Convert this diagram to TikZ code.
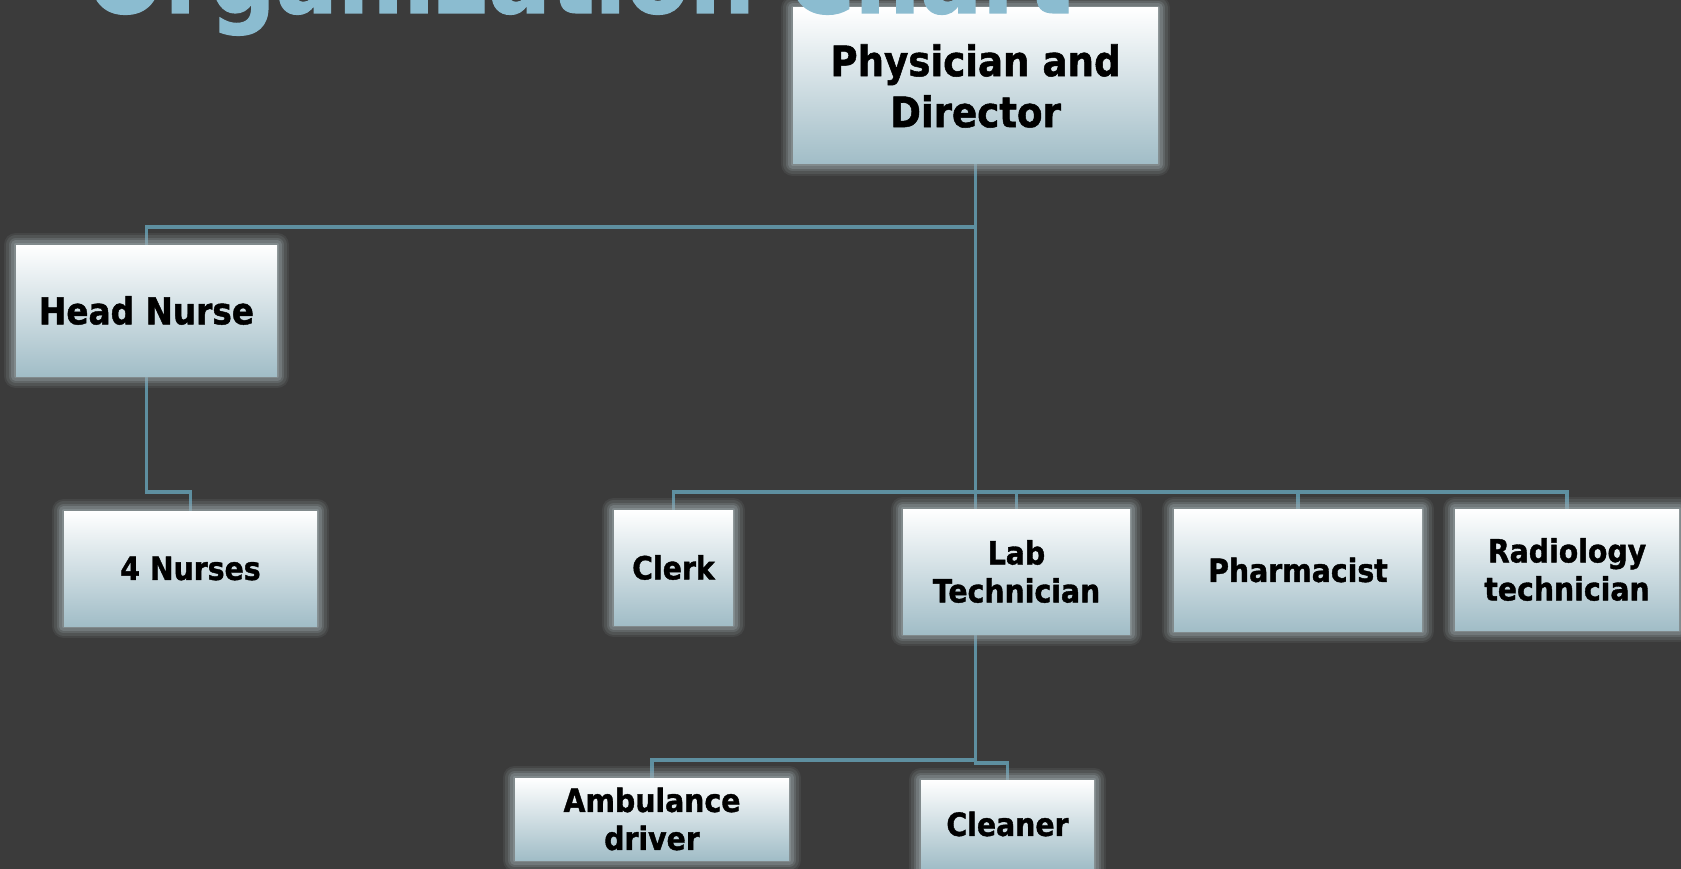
\documentclass[tikz,border=0pt]{standalone}
\usepackage{fontspec}
\setmainfont{DejaVu Sans}[FakeStretch=0.885,FakeBold=1.2]
\usetikzlibrary{calc}
\definecolor{bgc}{HTML}{3B3B3B}
\definecolor{linec}{HTML}{5E8FA0}
\definecolor{topc}{HTML}{FFFFFF}
\definecolor{botc}{HTML}{A1BDC7}
\definecolor{glowc}{HTML}{A0ACB0}
\definecolor{titlec}{HTML}{8BBCD0}
\pgfdeclarelayer{bg}
\pgfdeclarelayer{glowl}
\pgfsetlayers{bg,glowl,main}
\tikzset{
  box/.style={rectangle, inner sep=0pt, top color=topc, bottom color=botc,
    align=center, text=black, font=\bfseries\fontsize{32}{38}\selectfont},
  conn/.style={draw=linec, line width=3.3pt},
  glowline/.style={draw=glowc, line join=round}
}
\begin{document}
\begin{tikzpicture}[x=1pt,y=-1pt]
\useasboundingbox (0,0) rectangle (1681,869);
\clip (0,0) rectangle (1681,869);
% boxes
\node[box, minimum width=365pt, minimum height=156pt,
  font=\bfseries\fontsize{42}{51}\selectfont] (phys) at (975.5,86) {Physician and\\Director};
\node[box, minimum width=261pt, minimum height=131pt,
  font=\bfseries\fontsize{37}{44}\selectfont] (head) at (146.5,310.5) {Head Nurse};
\node[box, minimum width=253pt, minimum height=115pt] (nurses) at (190.5,568.5) {4 Nurses};
\node[box, minimum width=119pt, minimum height=115pt] (clerk) at (673.5,567.5) {Clerk};
\node[box, minimum width=227pt, minimum height=125pt] (lab) at (1016.5,571.5) {Lab\\Technician};
\node[box, minimum width=248pt, minimum height=122pt] (pharm) at (1298,570) {Pharmacist};
\node[box, minimum width=224pt, minimum height=121pt] (radio) at (1567,569.5) {Radiology\\technician};
\node[box, minimum width=274pt, minimum height=82pt] (amb) at (652,819) {Ambulance\\driver};
\node[box, minimum width=173pt, minimum height=88pt] (clean) at (1007.5,824) {Cleaner};
% glow
\begin{pgfonlayer}{glowl}
\foreach \n in {phys,head,nurses,clerk,lab,pharm,radio,amb,clean}{
  \foreach \w/\o in {24/0.10,19/0.14,14/0.2,9/0.28,4/0.35}{
    \draw[glowline, line width=\w pt, opacity=\o] (\n.north west) rectangle (\n.south east);
  }
}
\end{pgfonlayer}
% connectors
\begin{pgfonlayer}{bg}
\fill[bgc] (0,0) rectangle (1681,869);
\coordinate (j1) at (975.5,227);
\coordinate (j2) at (975.5,492);
\coordinate (hb) at (146.5,492);
\coordinate (j3) at (975.5,760);
\draw[conn] (phys.south) -- (lab.north -| phys.south);
\draw[conn] (j1) -| (head.north);
\draw[conn] (head.south) -- (hb) -| (nurses.north);
\draw[conn] (clerk.north) -- (clerk.north |- j2) -- (radio.north |- j2) -- (radio.north);
\draw[conn] (lab.north) -- (lab.north |- j2);
\draw[conn] (pharm.north) -- (pharm.north |- j2);
\draw[conn] (lab.south -| j3) -- (j3) -| (amb.north);
\draw[conn] (j3) -- ++(0,3) -| (clean.north);
\end{pgfonlayer}
% title
\node[anchor=base west, inner sep=0pt, text=titlec,
  font=\bfseries\fontsize{104}{110}\selectfont] (title) at (86,13) {Organization Chart};
\end{tikzpicture}
\end{document}
